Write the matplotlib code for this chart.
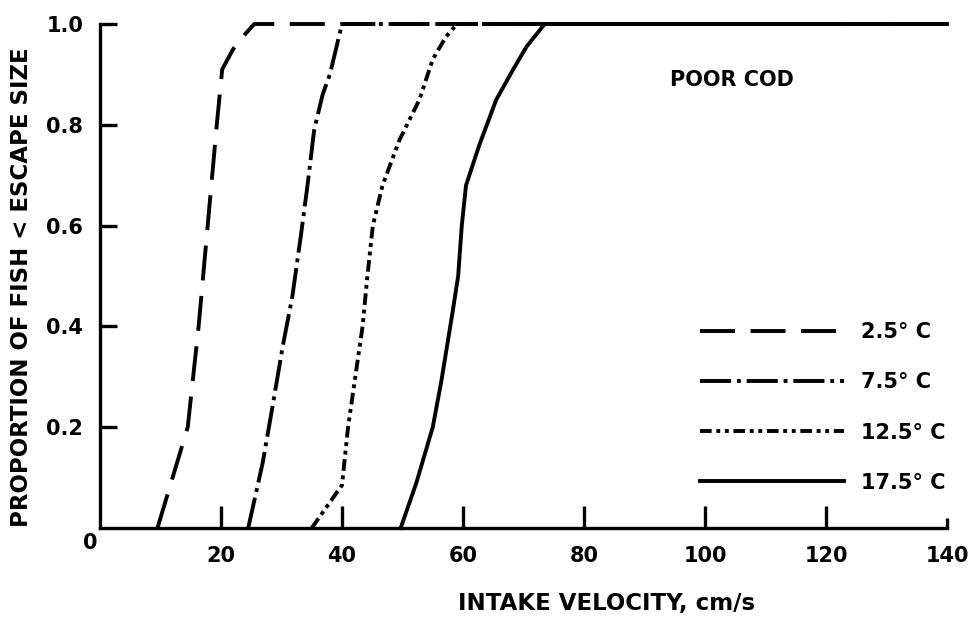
import matplotlib
matplotlib.use("Agg")
import matplotlib.pyplot as plt

plt.rcParams['font.family'] = ['DejaVu Sans']
plt.rcParams['font.weight'] = 'bold'

# ---------------------------------------------
# escape curves, one per water temperature
# ---------------------------------------------
vel_25 = [9.5, 12.0, 14.5, 16.3, 17.8, 19.3, 20.2, 22.0, 24.0, 25.5, 140]
prop_25 = [0.0, 0.10, 0.20, 0.40, 0.60, 0.80, 0.91, 0.95, 0.98, 1.0, 1.0]

vel_75 = [24.5, 26.9, 28.5, 30.2, 31.8, 33.2, 34.3, 35.4, 36.8, 38.0, 40.0, 140]
prop_75 = [0.0, 0.13, 0.24, 0.36, 0.46, 0.58, 0.68, 0.79, 0.86, 0.90, 1.0, 1.0]

vel_125 = [35.0, 40.0, 41.0, 42.2, 43.4, 44.2, 45.1, 46.7, 49.5, 52.8, 55.0, 57.2, 59.0, 140]
prop_125 = [0.0, 0.085, 0.20, 0.30, 0.40, 0.50, 0.60, 0.68, 0.77, 0.85, 0.93, 0.975, 1.0, 1.0]

vel_175 = [49.7, 52.3, 55.0, 56.4, 58.3, 59.2, 59.8, 60.5, 62.7, 65.5, 68.3, 70.5, 73.5, 140]
prop_175 = [0.0, 0.09, 0.20, 0.29, 0.43, 0.50, 0.60, 0.68, 0.76, 0.85, 0.91, 0.955, 1.0, 1.0]

temps = ["2.5° C", "7.5° C", "12.5° C", "17.5° C"]

x_ticks = [20, 40, 60, 80, 100, 120, 140]
y_ticks = [0.2, 0.4, 0.6, 0.8, 1.0]

fig = plt.figure(figsize=(9.74, 6.18), dpi=100)
ax = fig.add_axes([100/974, 90/618, 847/974, 504/618])

lw = 2.8
styles = [
    (0, (9, 4)),
    (0, (8, 1.5, 1, 1.5)),
    (0, (3, 1.2, 1, 1.2, 1, 1.2)),
    '-',
]

curves = [
    (vel_25, prop_25),
    (vel_75, prop_75),
    (vel_125, prop_125),
    (vel_175, prop_175),
]

handles = []
for (v, p), ls, name in zip(curves, styles, temps):
    line, = ax.plot(v, p, color='black', lw=lw, linestyle=ls,
                    label=name, clip_on=False)
    handles.append(line)

ax.set_xlim(0, 140)
ax.set_ylim(0, 1.0)

for side in ['top', 'right']:
    ax.spines[side].set_visible(False)
for side in ['left', 'bottom']:
    ax.spines[side].set_linewidth(2.4)

ax.set_xticks(x_ticks)
ax.set_yticks(y_ticks)
ax.set_yticklabels([f"{t:.1f}" for t in y_ticks])

ax.tick_params(axis='x', direction='in', length=16, width=2.4,
               labelsize=15, pad=13)
ax.tick_params(axis='y', direction='in', length=12, width=2.4,
               labelsize=15, pad=12)

# shorter end tick at 140
ax.xaxis.get_major_ticks()[-1].tick1line.set_markersize(7)

# shared origin label
ax.annotate("0", xy=(0, 0), xytext=(-10, -15), textcoords='offset pixels',
            ha='center', va='center', fontsize=15, fontweight='bold')

ax.text(104.5, 0.889, "POOR COD", ha='center', va='center',
        fontsize=15, fontweight='bold')

leg = ax.legend(handles=handles, loc='lower right',
                bbox_to_anchor=(0.998, 0.07), frameon=False,
                fontsize=15, handlelength=6.9, handletextpad=0.8,
                labelspacing=1.45, borderpad=0, borderaxespad=0)
for t in leg.get_texts():
    t.set_fontweight('bold')

fig.text(22/974, 1 - 287/618, "PROPORTION OF FISH < ESCAPE SIZE",
         rotation=90, ha='center', va='center',
         fontsize=16.5, fontweight='bold')

fig.text(607/974, 1 - 610/618, "INTAKE VELOCITY, cm/s",
         ha='center', va='baseline',
         fontsize=16.5, fontweight='bold')

fig.savefig("out.png", dpi=100)
